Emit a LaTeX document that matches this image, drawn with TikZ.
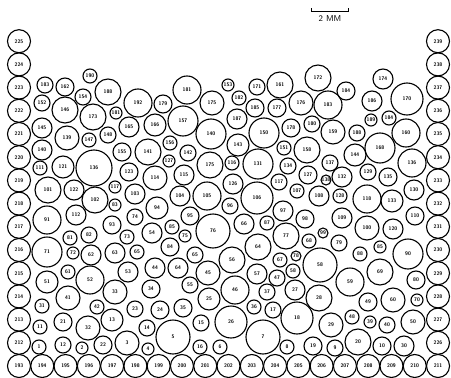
\documentclass[tikz,border=0pt]{standalone}
\usepackage{tikz}
\usetikzlibrary{calc}
\tikzset{
  grain/.style={circle, draw=black, line width=1.1pt, inner sep=0pt,
    font=\fontsize{5.2}{5.5}\selectfont\sffamily\bfseries},
  wallgrain/.style={grain, minimum size=23pt},
  scalebar/.style={black, line width=0.9pt},
  barlabel/.style={inner sep=0pt, font=\fontsize{8.5}{9}\selectfont\sffamily}
}
\begin{document}
\begin{tikzpicture}[x=1pt,y=-1pt]
  \useasboundingbox (0,0) rectangle (451,378);
  % scale bar
  \node[barlabel] (barlab) at (330,19) {2 MM};
  \coordinate (barl) at (311,11);
  \coordinate (barr) at (348,11);
  \draw[scalebar] ($(barl)+(0,-3)$) -- (barl) -- (barr) -- ($(barr)+(0,-3)$);
  % walls: bottom row, left and right columns
  \foreach \k [evaluate=\k as \n using int(193+\k)] in {0,...,18}
    \node[wallgrain] (w\n) at (19+23.28*\k,366) {\n};
  \foreach \k [evaluate=\k as \n using int(211+\k)] in {1,...,14}
    \node[wallgrain] (w\n) at (19,366-23.2*\k) {\n};
  \foreach \k [evaluate=\k as \n using int(225+\k)] in {1,...,14}
    \node[wallgrain] (w\n) at (438,366-23.2*\k) {\n};
  % grains: x/y/radius/label
  \foreach \x/\y/\r/\n [count=\i] in {
    45/85/8/183, 65/87/9/162, 90/76/7/190, 83/97/8/154, 108/92/13/188,
    42/103/8/152, 65/110/13/146, 93/117/13/173, 116/113/6/181, 138/103/14/192,
    163/104/9/179, 187/90/14/181, 212/103/12/175, 228/85/6/153, 239/98/7/182,
    257/87/8/171, 280/85/13/161, 255/108/9/185, 277/108/9/177, 301/103/12/176,
    318/78/13/172, 328/105/14/183, 346/91/9/184, 383/79/10/174, 372/101/10/186,
    407/99/16/170,
    42/128/10/145, 67/138/12/139, 89/140/7/147, 108/135/8/148, 129/127/10/165,
    155/125/11/166, 183/121/15/157, 211/134/15/140, 237/119/10/187, 238/145/11/143,
    264/133/15/150, 291/128/9/178, 312/124/8/180, 333/132/12/159, 357/133/8/188,
    371/120/6/189, 389/118/7/184, 406/133/14/160,
    42/150/10/140, 122/152/9/155, 148/152/13/141, 170/143/7/156, 188/153/8/142,
    284/148/7/151, 307/150/13/158, 355/155/11/144, 380/148/15/168,
    40/168/7/111, 63/167/11/121, 94/168/18/136, 129/172/9/123, 169/161/6/127,
    155/178/12/114, 184/175/10/115, 210/165/13/175, 232/163/7/116, 258/164/15/131,
    288/166/8/134, 330/163/8/137, 412/163/14/136, 308/175/9/127, 326/180/5/138,
    342/177/10/132, 368/172/8/129, 388/177/9/135,
    48/190/13/101, 74/190/10/122, 95/200/13/102, 115/187/6/117, 135/194/10/103,
    180/196/10/104, 207/196/14/105, 233/184/10/126, 279/182/8/117, 297/191/7/107,
    257/198/16/106, 319/196/10/108, 340/196/7/128, 367/199/14/118, 392/201/11/133,
    414/190/10/130,
    47/220/14/91, 76/215/10/112, 115/205/6/83, 112/225/9/93, 135/217/8/74,
    157/208/11/94, 190/216/9/95, 230/206/8/96, 283/211/10/97, 305/219/9/98,
    342/218/10/109, 415/216/9/110, 323/233/5/99, 367/228/12/100, 393/229/10/120,
    70/238/7/81, 89/235/8/82, 127/237/7/73, 152/233/10/54, 172/227/7/85,
    185/236/6/75, 213/231/17/76, 244/224/10/66, 267/223/7/87, 286/236/13/77,
    309/241/7/68, 339/243/8/79, 380/247/6/85,
    47/252/15/71, 73/253/6/72, 91/255/10/62, 115/253/10/63, 137/252/7/65,
    170/247/9/84, 195/255/8/65, 258/247/13/64, 280/260/7/67, 296/256/5/78,
    360/254/7/88, 408/254/15/90,
    68/272/7/61, 47/282/11/51, 90/280/14/52, 128/272/10/53, 155/268/10/44,
    178/268/10/64, 232/260/13/56, 208/273/12/45, 257/274/10/57, 277/278/8/47,
    293/271/7/58, 320/265/17/58, 380/272/13/69, 350/282/14/59, 416/280/9/80,
    42/306/7/31, 68/298/12/41, 97/307/7/42, 115/292/12/33, 135/309/8/23,
    151/289/9/34, 190/285/8/55, 235/290/14/46, 267/292/8/37, 295/290/10/27,
    319/298/13/28, 368/302/9/49, 393/300/12/60, 417/300/6/70,
    40/327/7/11, 63/322/9/21, 88/328/12/32, 112/320/11/13, 147/328/8/14,
    160/310/9/24, 183/308/9/35, 201/323/8/15, 209/299/11/25, 231/322/16/26,
    254/307/7/36, 273/310/8/17, 297/318/16/18, 331/325/12/29, 352/317/7/48,
    370/322/6/39, 387/325/8/40, 413/322/12/50,
    39/347/7/1, 63/345/8/12, 82/348/6/2, 103/345/9/22, 127/343/12/3,
    148/349/6/4, 173/337/17/5, 200/347/7/16, 220/347/7/6, 263/337/17/7,
    287/347/7/8, 313/346/9/19, 335/348/8/9, 358/342/13/20, 382/346/9/10,
    404/346/10/30}
    \node[grain, minimum size=2*\r] (g\i) at (\x,\y) {\n};
\end{tikzpicture}
\end{document}
